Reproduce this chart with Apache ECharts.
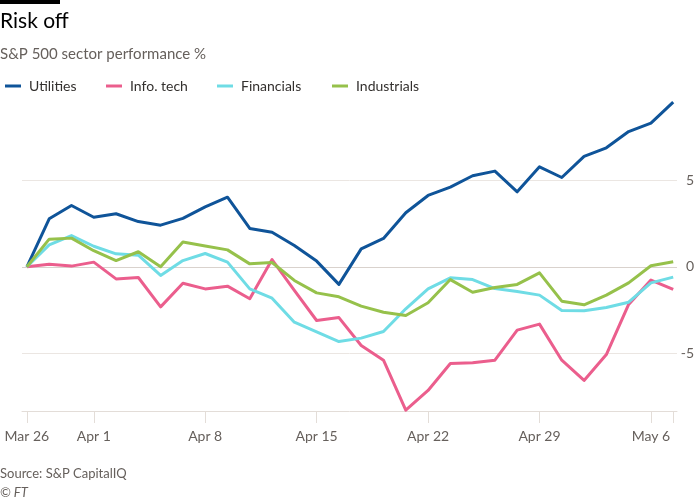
<!DOCTYPE html>
<html>
<head>
<meta charset="utf-8">
<script src="https://cdn.jsdelivr.net/npm/echarts@6/dist/echarts.min.js"></script>
<style>
html,body{margin:0;padding:0;background:#fff;}
#chart{width:700px;height:500px;}
</style>
</head>
<body>
<div id="chart"></div>
<script>
const dates = ['Mar 26','Mar 27','Mar 28','Apr 1','Apr 2','Apr 3','Apr 4','Apr 5','Apr 8','Apr 9','Apr 10','Apr 11','Apr 12','Apr 15','Apr 16','Apr 17','Apr 18','Apr 19','Apr 22','Apr 23','Apr 24','Apr 25','Apr 26','Apr 29','Apr 30','May 1','May 2','May 3','May 6','May 7'];
const utilities = [0, 2.78, 3.55, 2.87, 3.07, 2.62, 2.41, 2.8, 3.47, 4.03, 2.22, 2.0, 1.23, 0.33, -1.02, 1.04, 1.64, 3.13, 4.13, 4.61, 5.27, 5.54, 4.34, 5.79, 5.17, 6.39, 6.89, 7.83, 8.32, 9.53];
const infoTech = [0, 0.15, 0.04, 0.27, -0.7, -0.62, -2.32, -0.95, -1.28, -1.12, -1.85, 0.42, -1.36, -3.11, -2.94, -4.56, -5.41, -8.3, -7.16, -5.6, -5.56, -5.41, -3.67, -3.32, -5.41, -6.58, -5.08, -2.18, -0.77, -1.31];
const financials = [0, 1.27, 1.81, 1.19, 0.75, 0.67, -0.5, 0.36, 0.77, 0.27, -1.28, -1.82, -3.21, -3.77, -4.33, -4.13, -3.75, -2.43, -1.28, -0.64, -0.74, -1.26, -1.43, -1.64, -2.53, -2.55, -2.36, -2.05, -0.93, -0.6];
const industrials = [0, 1.6, 1.66, 0.93, 0.36, 0.87, 0, 1.43, 1.21, 0.98, 0.17, 0.25, -0.79, -1.51, -1.74, -2.28, -2.63, -2.82, -2.08, -0.74, -1.47, -1.2, -1.02, -0.35, -1.99, -2.2, -1.64, -0.93, 0.06, 0.29];
const seriesNames = ['Utilities','Info. tech','Financials','Industrials'];
const seriesColors = ['#0f5499','#eb5e8d','#6fdce5','#96c14b'];
const xTickIdx = [0,3,8,13,18,23,28,29];
const xLabelIdx = [0,3,8,13,18,23,28];
const yTicks = [-5,0,5];

const FONT = 'Lato, "Noto Sans", sans-serif';
const allData = [utilities, infoTech, financials, industrials];
const legendLefts = [0, 101, 212, 327];

const chart = echarts.init(document.getElementById('chart'), null, {renderer:'canvas'});
chart.setOption({
  animation:false,
  backgroundColor:'#ffffff',
  textStyle:{fontFamily:FONT},
  graphic:[
    {type:'rect', left:0, top:0, shape:{width:60,height:4}, style:{fill:'#000'}},
    {type:'text', left:0, top:11, style:{text:'Risk off', font:'21px '+FONT, fill:'#000'}},
    {type:'text', left:0, top:47, style:{text:'S&P 500 sector performance %', font:'15px '+FONT, fill:'#66605c'}},
    {type:'text', left:0, top:467, style:{text:'Source: S&P CapitalIQ', font:'13px '+FONT, fill:'#66605c'}},
    {type:'text', left:0, top:486, style:{text:'© FT', font:'italic 13px '+FONT, fill:'#66605c'}}
  ],
  legend: seriesNames.map((n,i)=>({
    data:[n], left:legendLefts[i], top:74, icon:'rect', itemWidth:16, itemHeight:3,
    textStyle:{fontSize:14, color:'#33302e', fontFamily:FONT, padding:[0,0,0,3]},
    selectedMode:false
  })),
  grid:{left:22, right:23, top:101, bottom:89, containLabel:false},
  xAxis:{
    type:'value', min:-0.22, max:29.17,
    axisLine:{show:true, onZero:false, lineStyle:{color:'#e3ddd8', width:1}},
    axisTick:{show:true, length:12, customValues:xTickIdx, lineStyle:{color:'#e3ddd8'}},
    axisLabel:{customValues:xLabelIdx, formatter:(v)=>dates[Math.round(v)], color:'#66605c', fontSize:14, margin:18, fontFamily:FONT},
    splitLine:{show:false}
  },
  yAxis:{
    type:'value', position:'right', min:-8.35, max:9.6,
    axisLine:{show:false}, axisTick:{show:false, customValues:yTicks},
    axisLabel:{customValues:yTicks, align:'right', margin:17, color:'#66605c', fontSize:14, fontFamily:FONT},
    splitLine:{show:true, lineStyle:{color:['#ebe6e2','#d9d2cd','#ebe6e2'], width:1}}
  },
  series: seriesNames.map((n,i)=>({
    name:n, type:'line', symbol:'none', smooth:false,
    data: allData[i].map((v,j)=>[j,v]),
    lineStyle:{width:3, color:seriesColors[i], join:'round'},
    itemStyle:{color:seriesColors[i]}
  }))
});
</script>
</body>
</html>
